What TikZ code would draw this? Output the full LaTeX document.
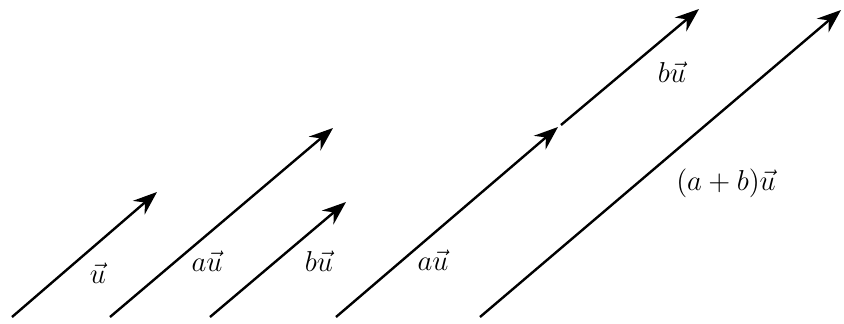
\documentclass[tikz,border=0pt]{standalone}
\usepackage{amsmath}
\usepackage{tikz}
\usetikzlibrary{arrows.meta, calc}

\begin{document}
\begin{tikzpicture}[
  x=0.5pt, y=0.5pt,
  vec/.style={line width=1.2pt, -{Stealth[length=12pt, width=9pt, inset=4pt]}},
  lbl/.style={font=\fontsize{13.5}{16}\selectfont},
]
  \useasboundingbox (0,0) rectangle (844,323);
  % tails and heads
  \foreach \name/\tx/\ty/\hx/\hy in {u/12/6/157/131, au/110/6/333/195, bu/210/6/346/121,
                                     sa/336/6/558/196, sb/561/198/699/314, ab/480/6/841/313}{
    \coordinate (\name0) at (\tx, \ty);
    \coordinate (\name1) at (\hx, \hy);
    \draw[vec] (\name0) -- (\name1);
  }
  % labels
  \node[lbl] (lu)  at (98, 50)   {$\vec{u}$};
  \node[lbl] (lau) at (207, 62)  {$a\vec{u}$};
  \node[lbl] (lbu) at (319, 62)  {$b\vec{u}$};
  \node[lbl] (lsa) at (433, 63)  {$a\vec{u}$};
  \node[lbl] (lsb) at (672, 251) {$b\vec{u}$};
  \node[lbl] (lab) at (726, 140) {$(a+b)\vec{u}$};
\end{tikzpicture}
\end{document}
